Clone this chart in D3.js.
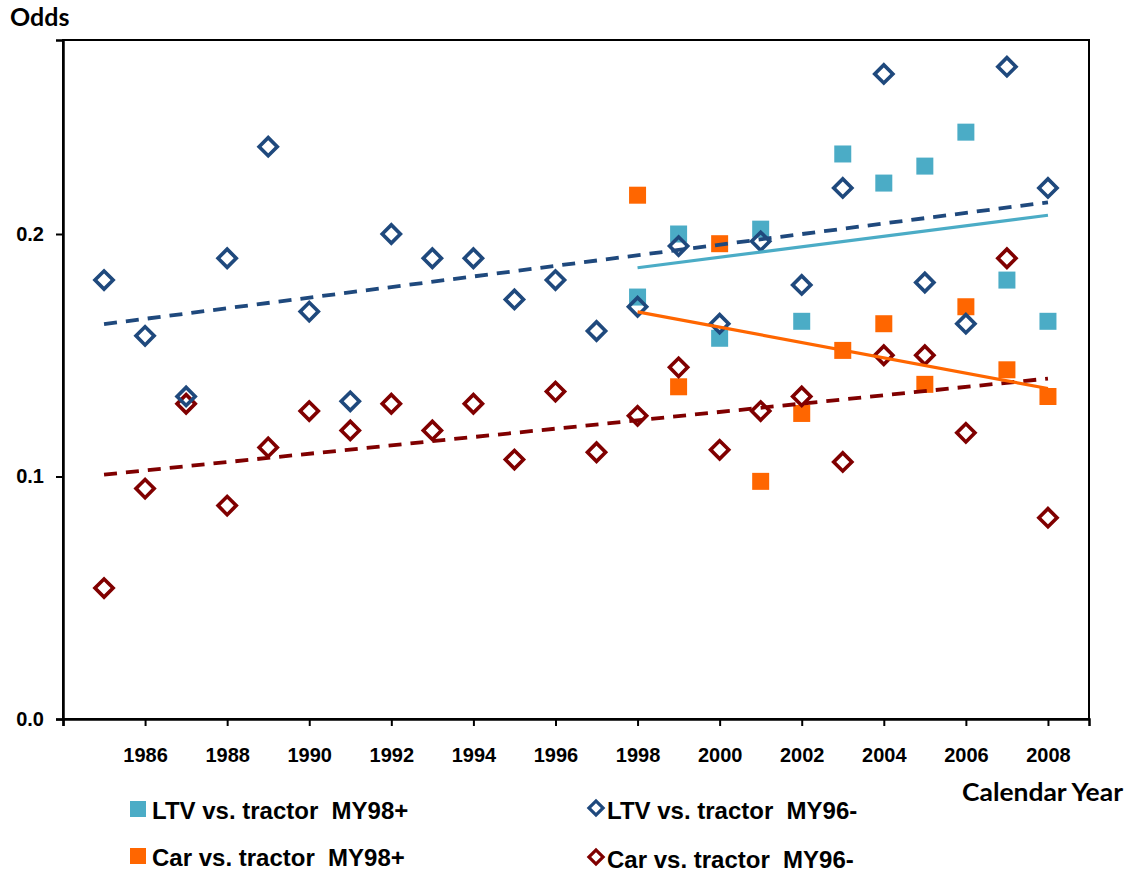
<!DOCTYPE html>
<html>
<head>
<meta charset="utf-8">
<script src="https://cdn.jsdelivr.net/npm/d3@7"></script>
<style>
  body { margin: 0; background: #fff; }
  svg { display: block; }
</style>
</head>
<body>
<svg id="chart" width="1131" height="875"></svg>
<script>
// Overall dimension of the canvas
const width = 1131, height = 875;

// Plot area
const plotLeft = 63, plotRight = 1089, plotTop = 40, plotBottom = 719;

// Data
const yearsOld = d3.range(1985, 2009);          // 1985..2008
const yearsNew = d3.range(1998, 2009);          // 1998..2008

const ltvOld = [0.181, 0.158, 0.133, 0.190, 0.236, 0.168, 0.131, 0.200, 0.190, 0.190, 0.173, 0.181,
                0.160, 0.170, 0.195, 0.163, 0.197, 0.179, 0.219, 0.266, 0.180, 0.163, 0.269, 0.219];
const carOld = [0.054, 0.095, 0.130, 0.088, 0.112, 0.127, 0.119, 0.130, 0.119, 0.130, 0.107, 0.135,
                0.110, 0.125, 0.145, 0.111, 0.127, 0.133, 0.106, 0.150, 0.150, 0.118, 0.190, 0.083];
const ltvNew = [0.174, 0.200, 0.157, 0.202, 0.164, 0.233, 0.221, 0.228, 0.242, 0.181, 0.164];
const carNew = [0.216, 0.137, 0.196, 0.098, 0.126, 0.152, 0.163, 0.138, 0.170, 0.144, 0.133];

const xTicks = d3.range(1984, 2009, 2);
const yTicks = [0, 0.1, 0.2];

const seriesNames = ["LTV vs. tractor  MY98+", "LTV vs. tractor  MY96-",
                     "Car vs. tractor  MY98+", "Car vs. tractor  MY96-"];

const colTeal = "#4bacc6", colOrange = "#ff6600", colNavy = "#1f497d", colRed = "#800000";

// Scales
const x = d3.scaleLinear().domain([1984, 2009]).range([plotLeft, plotRight]);
const y = d3.scaleLinear().domain([0, 0.28]).range([plotBottom, plotTop]);

const svg = d3.select("#chart");

// least squares trend line
function trend(xs, ys) {
    const mx = d3.mean(xs), my = d3.mean(ys);
    let sxy = 0, sxx = 0;
    xs.forEach((v, i) => { sxy += (v - mx) * (ys[i] - my); sxx += (v - mx) * (v - mx); });
    const b = sxy / sxx, a = my - b * mx;
    const x0 = xs[0], x1 = xs[xs.length - 1];
    return [[x0, a + b * x0], [x1, a + b * x1]];
}

// Plot frame
svg.append("rect")
    .attr("x", plotLeft).attr("y", plotTop)
    .attr("width", plotRight - plotLeft).attr("height", plotBottom - plotTop)
    .attr("fill", "none").attr("stroke", "#000").attr("stroke-width", 2);

// X axis
const xAxis = svg.append("g")
    .attr("transform", `translate(0,${plotBottom})`)
    .call(d3.axisBottom(x).tickValues(xTicks).tickSize(7).tickPadding(22)
        .tickFormat(d => d === 1984 ? "" : d));
xAxis.select(".domain").attr("stroke-width", 2.5);
xAxis.selectAll(".tick line").attr("stroke-width", 2);
xAxis.selectAll("text")
    .style("font-family", "'Liberation Sans', Arial, sans-serif")
    .style("font-weight", "bold").style("font-size", "20px").attr("fill", "#000");

// Y axis
const yAxis = svg.append("g")
    .attr("transform", `translate(${plotLeft},0)`)
    .call(d3.axisLeft(y).tickValues(yTicks).tickSize(7).tickPadding(12).tickFormat(d3.format(".1f")));
yAxis.select(".domain").attr("stroke-width", 2.5);
yAxis.selectAll(".tick line").attr("stroke-width", 2);
yAxis.selectAll("text")
    .style("font-family", "'Liberation Sans', Arial, sans-serif")
    .style("font-weight", "bold").style("font-size", "20px").attr("fill", "#000");

// Axis titles
svg.append("text").attr("x", 10).attr("y", 26).text("Odds")
    .style("font-family", "Lato, sans-serif").style("font-weight", "bold").style("font-size", "25px");
svg.append("text").attr("x", 962).attr("y", 801).text("Calendar Year")
    .attr("textLength", 161).attr("lengthAdjust", "spacingAndGlyphs")
    .style("font-family", "Lato, sans-serif").style("font-weight", "bold").style("font-size", "24px");

// Markers
const square = d3.symbol().type(d3.symbolSquare).size(289);
const diamond = d3.symbol().type(d3.symbolSquare).size(165);

function drawSquares(xs, ys, color) {
    svg.append("g").selectAll("path")
        .data(xs.map((v, i) => [v, ys[i]]))
        .enter().append("path")
        .attr("d", square)
        .attr("transform", d => `translate(${x(d[0])},${y(d[1])})`)
        .attr("fill", color);
}

function drawDiamonds(xs, ys, color) {
    svg.append("g").selectAll("path")
        .data(xs.map((v, i) => [v, ys[i]]))
        .enter().append("path")
        .attr("d", diamond)
        .attr("transform", d => `translate(${x(d[0])},${y(d[1])}) rotate(45)`)
        .attr("fill", "none").attr("stroke", color).attr("stroke-width", 3.6);
}

function drawTrend(xs, ys, color, dashed) {
    const pts = trend(xs, ys);
    svg.append("path")
        .attr("d", d3.line().x(d => x(d[0])).y(d => y(d[1]))(pts))
        .attr("fill", "none").attr("stroke", color)
        .attr("stroke-width", dashed ? 3.8 : 3.2)
        .attr("stroke-dasharray", dashed ? "13,9" : null);
}

drawSquares(yearsNew, ltvNew, colTeal);
drawSquares(yearsNew, carNew, colOrange);
drawDiamonds(yearsOld, carOld, colRed);
drawDiamonds(yearsOld, ltvOld, colNavy);

drawTrend(yearsOld, ltvOld, colNavy, true);
drawTrend(yearsOld, carOld, colRed, true);
drawTrend(yearsNew, ltvNew, colTeal, false);
drawTrend(yearsNew, carNew, colOrange, false);

// Legend
const legendItems = [
    {name: seriesNames[0], color: colTeal,   kind: "square",  x: 130, y: 809},
    {name: seriesNames[1], color: colNavy,   kind: "diamond", x: 588, y: 808},
    {name: seriesNames[2], color: colOrange, kind: "square",  x: 130, y: 856},
    {name: seriesNames[3], color: colRed,    kind: "diamond", x: 588, y: 857}
];

const legend = svg.append("g").attr("class", "legend");
const items = legend.selectAll(".legend-item")
    .data(legendItems)
    .enter().append("g")
    .attr("class", "legend-item")
    .attr("transform", d => `translate(${d.x},${d.y})`);

items.filter(d => d.kind === "square").append("rect")
    .attr("x", 0).attr("y", -8).attr("width", 16).attr("height", 16)
    .attr("fill", d => d.color);

items.filter(d => d.kind === "diamond").append("path")
    .attr("d", d3.symbol().type(d3.symbolSquare).size(100))
    .attr("transform", "translate(8,0) rotate(45)")
    .attr("fill", "none").attr("stroke", d => d.color).attr("stroke-width", 3.2);

items.append("text")
    .attr("x", d => d.kind === "square" ? 22 : 19)
    .attr("y", d => d.kind === "square" ? 10 : 11)
    .style("white-space", "pre")
    .text(d => d.name)
    .style("font-family", "'Liberation Sans', Arial, sans-serif")
    .style("font-weight", "bold").style("font-size", "24px");
</script>
</body>
</html>
